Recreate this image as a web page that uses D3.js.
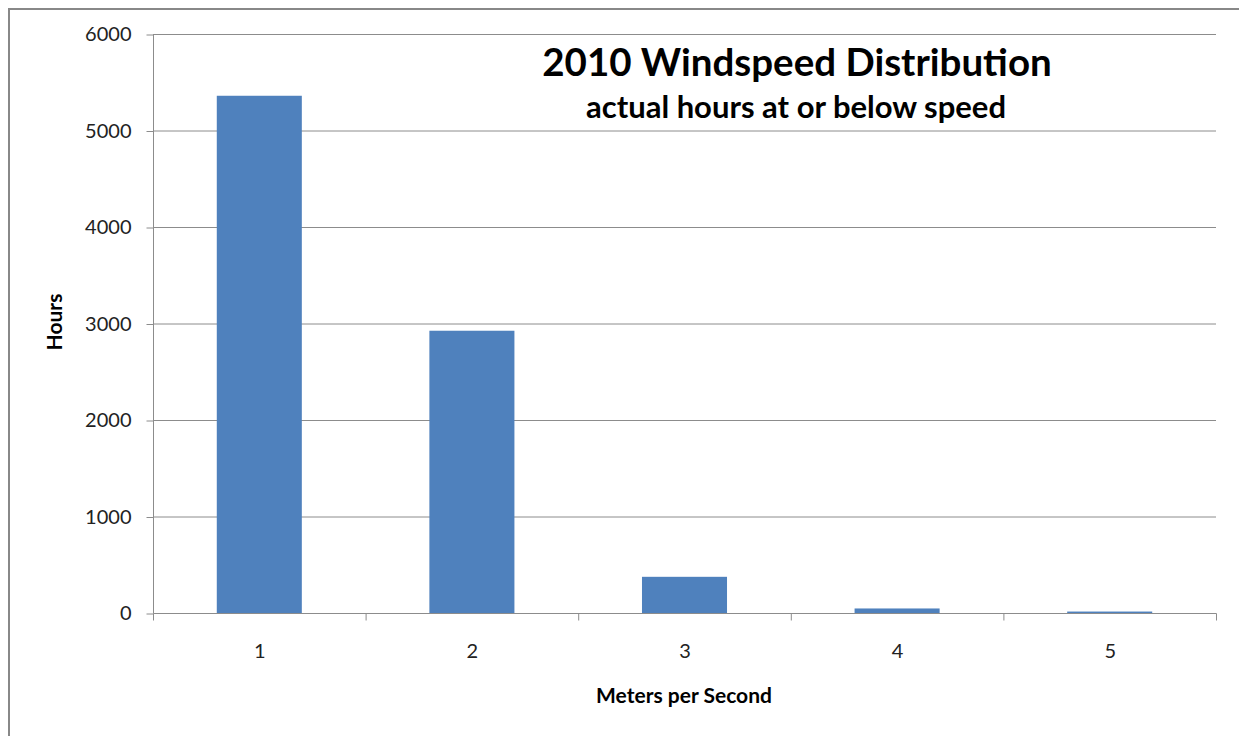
<!DOCTYPE html>
<html><head><meta charset="utf-8">
<script src="https://cdn.jsdelivr.net/npm/d3@7"></script>
<style>
body{margin:0;background:#fff;}
svg{display:block;}
text{font-family:Lato,"Open Sans",sans-serif;}
</style></head>
<body>
<script>
const categories = ["1","2","3","4","5"];
const hours = [5360, 2925, 375, 47, 15];
const yTicks = [0,1000,2000,3000,4000,5000,6000];
const title = "2010 Windspeed Distribution";
const subtitle = "actual hours at or below speed";
const xTitle = "Meters per Second";
const yTitle = "Hours";

(function(){
const W = 1239, H = 736;
const svg = d3.select("body").append("svg").attr("width",W).attr("height",H);
svg.append("path").attr("d","M9,740 L9,9 L1245,9").attr("fill","none").attr("stroke","#888").attr("stroke-width",2);

const pL=153, pR=1216, pT=34, pB=613;
const xb = d3.scaleBand().domain(categories).range([pL,pR]);
const y = d3.scaleLinear().domain([0,6000]).range([pB,pT]);

svg.append("g").selectAll("line").data(yTicks.filter(d=>d>0)).join("line")
  .attr("x1",pL).attr("x2",pR).attr("y1",d=>y(d)+0.5).attr("y2",d=>y(d)+0.5)
  .attr("stroke","#8c8c8c").attr("stroke-width",1);

svg.append("g").selectAll("rect").data(categories).join("rect")
  .attr("x",(d)=>xb(d)+xb.bandwidth()*0.3).attr("width",xb.bandwidth()*0.4)
  .attr("y",(d,i)=>y(hours[i])).attr("height",(d,i)=>pB-y(hours[i]))
  .attr("fill","#4F81BD");

const ya = svg.append("g").attr("transform",`translate(${pL+0.5},0.5)`)
  .call(d3.axisLeft(y).tickValues(yTicks).tickSize(7).tickPadding(15).tickFormat(d3.format("d")));
ya.select(".domain").attr("stroke","#8c8c8c").attr("d",`M0,${pT}V${pB}`);
ya.selectAll(".tick line").attr("stroke","#8c8c8c");
ya.selectAll("text").attr("font-size",20).attr("fill","#222").attr("font-family","Lato,'Open Sans',sans-serif");

const xa = svg.append("g").attr("transform",`translate(0.5,${pB+0.5})`);
xa.append("line").attr("x1",pL).attr("x2",pR).attr("stroke","#8c8c8c");
const bounds = categories.map(c=>xb(c)).concat([pR]);
xa.selectAll("line.tk").data(bounds).join("line").attr("class","tk")
  .attr("x1",d=>d).attr("x2",d=>d).attr("y1",0).attr("y2",7).attr("stroke","#8c8c8c");
xa.selectAll("text").data(categories).join("text")
  .attr("x",d=>xb(d)+xb.bandwidth()/2).attr("y",44).attr("text-anchor","middle")
  .attr("font-size",20).attr("fill","#222").text(d=>d);

svg.append("text").attr("x",797).attr("y",76).attr("text-anchor","middle")
  .attr("font-size",38.5).attr("font-weight","bold").attr("fill","#000").text(title);
svg.append("text").attr("x",796).attr("y",118).attr("text-anchor","middle")
  .attr("font-size",31).attr("font-weight","bold").attr("fill","#000").text(subtitle);
svg.append("text").attr("x",684).attr("y",703).attr("text-anchor","middle")
  .attr("font-size",21).attr("font-weight","bold").attr("fill","#000").text(xTitle);
svg.append("text").attr("transform","translate(62,322) rotate(-90)").attr("text-anchor","middle")
  .attr("font-size",21).attr("font-weight","bold").attr("fill","#000").text(yTitle);
})();
</script>
</body></html>
